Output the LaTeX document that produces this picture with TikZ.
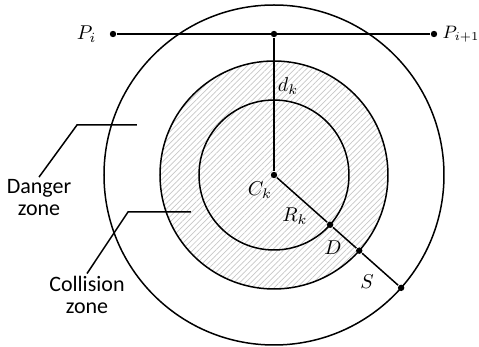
\documentclass[tikz,border=0pt]{standalone}
\usepackage{amsmath,amssymb}
\usepackage{fontspec}
\newfontfamily\zonefont{Carlito}
\usepackage{tikz}
\usetikzlibrary{positioning,calc,patterns.meta}

\begin{document}
\begin{tikzpicture}[x=0.5pt,y=-0.5pt,line width=0.75pt,
  dot/.style={circle,fill,inner sep=0pt,minimum size=3.2pt},
  lbl/.style={inner sep=1pt},
  zone/.style={align=center,inner sep=1pt,font=\zonefont\fontsize{11pt}{11pt}\selectfont}]
  \useasboundingbox (0,0) rectangle (479,347);
  % hatched collision disk
  \coordinate (c) at (274,175);
  \fill[pattern={Lines[angle=45,distance=2pt,line width=0.35pt]},pattern color=black!22]
    (c) circle[radius=57pt];
  \draw (c) circle[radius=85pt];
  \draw (c) circle[radius=57pt];
  \draw (c) circle[radius=37.5pt];
  % path and points
  \node[dot] (pi) at (113,34) {};
  \node[dot] (pj) at (434,34) {};
  \node[dot] (f) at (274,34) {};
  \node[dot] (ck) at (c) {};
  \node[dot] (d) at ($(c)+(41.6:75)$) {};
  \node[dot] (s) at ($(c)+(41.6:114)$) {};
  \node[dot] (o) at ($(c)+(41.6:170)$) {};
  \draw (pi) -- (pj);
  \draw (f) -- (ck);
  \draw (ck) -- (d) -- (s) -- (o);
  \node[lbl,left=5pt of pi] (lpi) {$P_i$};
  \node[inner sep=0pt,right=2pt of pj,font=\fontsize{9pt}{9pt}\selectfont] (lpj) {$P_{i+1}$};
  \node[lbl] (ldk) at (288,86) {$d_k$};
  \node[lbl] (lck) at (260,190) {$C_k$};
  \node[lbl] (lrk) at (295,216) {$R_k$};
  \node[lbl] (ld) at (333,248) {$D$};
  \node[lbl] (ls) at (367,282) {$S$};
  % zone labels
  \node[zone] (dz) at (39,198) {Danger\\zone};
  \node[zone] (cz) at (87,295) {Collision\\zone};
  \coordinate (dzb) at (77,125);
  \coordinate (dze) at (137,125);
  \coordinate (czb) at (128,212);
  \coordinate (cze) at (191,212);
  \draw (dz.north) -- (dzb) -- (dze);
  \draw (cz.north) -- (czb) -- (cze);
\end{tikzpicture}
\end{document}
